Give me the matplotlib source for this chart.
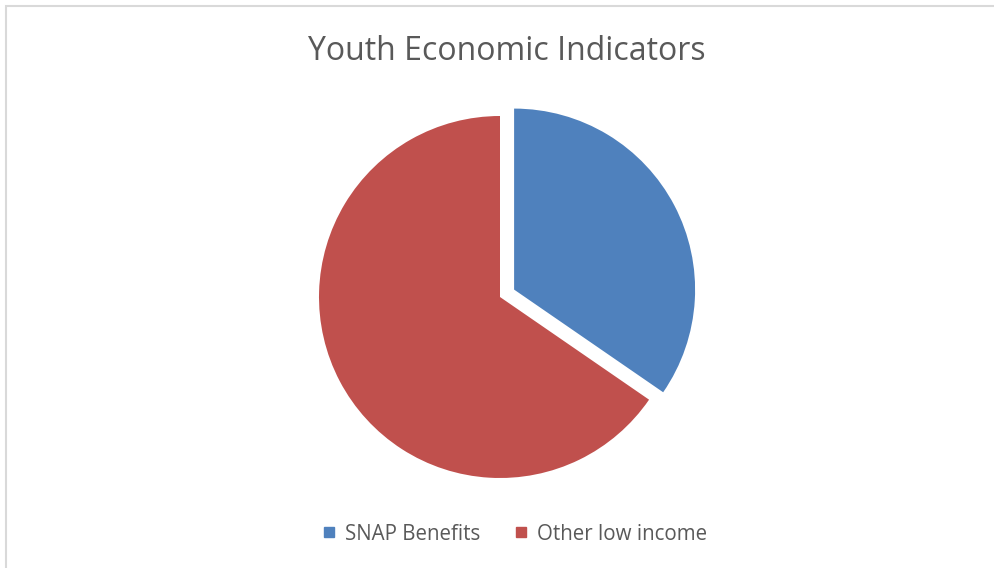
import matplotlib.pyplot as plt
from matplotlib.lines import Line2D
from matplotlib.patches import Rectangle

labels = ["SNAP Benefits", "Other low income"]
values = [34.6, 65.4]
colors = ["#4F81BD", "#C0504D"]

W, H = 995, 568
cx, cy, r = 500, 297, 181


def main():
    fig = plt.figure(figsize=(W / 100, H / 100), dpi=100)

    # chart area border (runs off the right and bottom edge)
    fig.patches.append(
        Rectangle((6 / W, -0.1), 1.2, (H - 6) / H + 0.1, transform=fig.transFigure,
                  facecolor="none", edgecolor="#d9d9d9", linewidth=1.5)
    )

    ax = fig.add_axes([0, 0, 1, 1])
    ax.pie(values, colors=colors, startangle=90, counterclock=False,
           explode=[0.088, 0], radius=1, center=(0, 0),
           wedgeprops=dict(linewidth=0))
    # one data unit = r pixels in both directions
    ax.set_xlim(-cx / r, (W - cx) / r)
    ax.set_ylim(-(H - cy) / r, cy / r)
    ax.set_aspect("auto")
    ax.axis("off")

    fig.text(507 / W, 1 - 52 / H, "Youth Economic Indicators", ha="center",
             va="center", fontsize=23, color="#595959", family="Open Sans")

    handles = [Line2D([], [], marker="s", linestyle="none", markersize=6.5,
                      color=c) for c in colors]
    fig.legend(handles, labels, loc="center", bbox_to_anchor=(515 / W, 1 - 534 / H),
               ncol=2, frameon=False, handlelength=0.6, handletextpad=0.45,
               columnspacing=1.7,
               prop=dict(family="Open Sans", size=14.8), labelcolor="#595959")

    fig.savefig("out.png", dpi=100)


if __name__ == "__main__":
    main()
